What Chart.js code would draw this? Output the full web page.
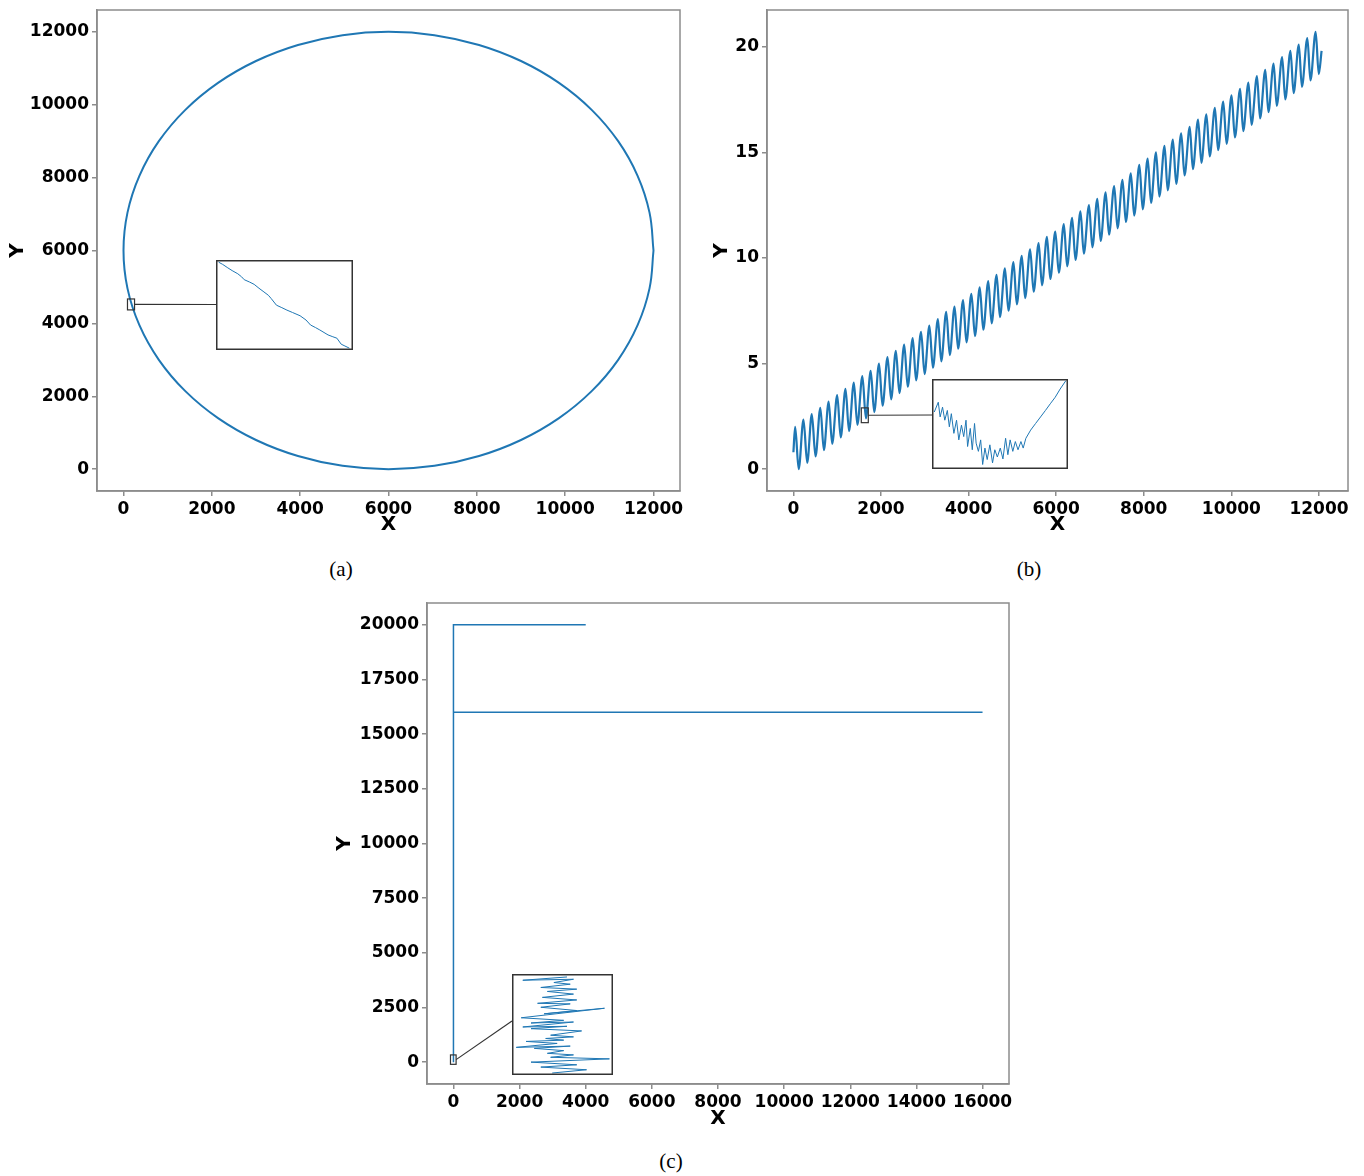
<!DOCTYPE html>
<html>
<head>
<meta charset="utf-8">
<title>Trajectories</title>
<script src="https://cdn.jsdelivr.net/npm/chart.js@4.4.1/dist/chart.umd.min.js"></script>
<style>
  body { margin: 0; background: #fff; }
  #page { position: relative; width: 1364px; height: 1176px; background: #fff; overflow: hidden; }
  canvas { position: absolute; }
  .inset { background: #fff; z-index: 2; }
  .cap { position: absolute; font-family: "Liberation Serif", serif; font-size: 21px; line-height: 26px; transform: translateX(-50%); }
</style>
</head>
<body>
<div id="page">
  <canvas id="chartA" width="690" height="540" style="left:0;top:0"></canvas>
  <canvas id="chartB" width="674" height="540" style="left:690px;top:0"></canvas>
  <canvas id="chartC" width="710" height="540" style="left:320px;top:593px"></canvas>
  <canvas id="insetA" class="inset" width="137" height="90" style="left:216px;top:260px"></canvas>
  <canvas id="insetB" class="inset" width="136" height="90" style="left:932px;top:379px"></canvas>
  <canvas id="insetC" class="inset" width="101" height="101" style="left:512px;top:974px"></canvas>
  <div class="cap" style="left:341px;top:556px">(a)</div>
  <div class="cap" style="left:1029px;top:556px">(b)</div>
  <div class="cap" style="left:671px;top:1148px">(c)</div>
</div>
<script>
// (a) closed orbit
const ringX = [12000, 11910, 11640, 11200, 10600, 9860, 9000, 8050, 7040, 6000, 4960, 3950, 3000, 2140, 1400, 800, 360, 90, 0, 90, 360, 800, 1400, 2140, 3000, 3950, 4960, 6000, 7040, 8050, 9000, 9860, 10600, 11200, 11640, 11910, 12000];
const ringY = [6000, 7040, 8050, 9000, 9860, 10600, 11200, 11640, 11910, 12000, 11910, 11640, 11200, 10600, 9860, 9000, 8050, 7040, 6000, 4960, 3950, 3000, 2140, 1400, 800, 360, 90, 0, 90, 360, 800, 1400, 2140, 3000, 3950, 4960, 6000];
const ticksA = [0, 2000, 4000, 6000, 8000, 10000, 12000];

// (b) drifting oscillation: start, then alternating peaks / troughs, then end
const waveStart = {x: 0, y: 0.8};
const waveEnd = {x: 12060, y: 19.8};
const peakX = [40, 230, 420, 615, 805, 1000, 1190, 1380, 1575, 1765, 1955, 2150, 2340, 2530, 2725, 2915, 3105, 3300, 3490, 3680, 3875, 4065, 4255, 4450, 4640, 4830, 5025, 5215, 5405, 5600, 5790, 5980, 6175, 6365, 6555, 6750, 6940, 7130, 7325, 7515, 7705, 7900, 8090, 8280, 8475, 8665, 8855, 9050, 9240, 9430, 9625, 9815, 10005, 10200, 10390, 10585, 10775, 10965, 11160, 11350, 11540, 11735, 11925];
const peakY = [2.0, 2.35, 2.6, 2.9, 3.2, 3.5, 3.8, 4.1, 4.4, 4.65, 5.0, 5.3, 5.6, 5.9, 6.2, 6.5, 6.8, 7.1, 7.45, 7.7, 8.0, 8.3, 8.6, 8.9, 9.2, 9.5, 9.8, 10.1, 10.4, 10.7, 11.0, 11.25, 11.6, 11.9, 12.2, 12.5, 12.8, 13.1, 13.4, 13.7, 14.0, 14.4, 14.7, 15.0, 15.3, 15.6, 15.9, 16.2, 16.55, 16.8, 17.1, 17.4, 17.7, 18.0, 18.3, 18.6, 18.9, 19.2, 19.5, 19.8, 20.1, 20.4, 20.7];
const troughX = [120, 315, 505, 695, 885, 1080, 1270, 1460, 1655, 1845, 2035, 2230, 2420, 2610, 2800, 2995, 3185, 3375, 3570, 3760, 3950, 4145, 4335, 4525, 4715, 4910, 5100, 5290, 5485, 5675, 5865, 6060, 6250, 6440, 6630, 6825, 7015, 7205, 7400, 7590, 7780, 7975, 8165, 8355, 8545, 8740, 8930, 9120, 9315, 9505, 9695, 9890, 10080, 10270, 10460, 10655, 10845, 11035, 11230, 11420, 11610, 11805, 11995];
const troughY = [0.0, 0.3, 0.6, 0.9, 1.2, 1.5, 1.8, 2.1, 2.4, 2.7, 3.0, 3.3, 3.6, 3.9, 4.2, 4.5, 4.8, 5.1, 5.4, 5.7, 6.0, 6.3, 6.6, 6.9, 7.2, 7.5, 7.8, 8.1, 8.4, 8.7, 9.0, 9.3, 9.6, 9.9, 10.2, 10.5, 10.8, 11.1, 11.4, 11.7, 12.0, 12.3, 12.6, 12.9, 13.2, 13.5, 13.9, 14.2, 14.5, 14.8, 15.1, 15.4, 15.7, 16.0, 16.3, 16.6, 16.9, 17.2, 17.5, 17.8, 18.1, 18.4, 18.7];
const ticksBX = [0, 2000, 4000, 6000, 8000, 10000, 12000];
const ticksBY = [0, 5, 10, 15, 20];

// (c) axis-aligned path
const pathX = [0, 0, 16000, 0, 0, 4000];
const pathY = [0, 16000, 16000, 16000, 20000, 20000];
const ticksCX = [0, 2000, 4000, 6000, 8000, 10000, 12000, 14000, 16000];
const ticksCY = [0, 2500, 5000, 7500, 10000, 12500, 15000, 17500, 20000];

// zoomed-in views (each in percent of its zoom window)
const insetAX = [1, 4, 7.8, 11, 15.2, 18, 20, 24, 27.4, 31, 34.7, 38, 40.1, 44, 48, 51.8, 56, 61.6, 66, 69.4, 73, 76.3, 82.4, 86, 89, 92.2, 95, 98.3];
const insetAY = [98.5, 96, 92.1, 89, 85.4, 82, 78.7, 76, 73.4, 69, 64.8, 61, 57.3, 49.8, 47, 44.2, 41.5, 37.8, 33, 27.3, 24.5, 21.7, 16.1, 14, 12.4, 5.6, 3.5, 1.1];
const insetBX = [0.7, 3.7, 5.1, 6.9, 8.6, 10.5, 12.0, 13.5, 15.4, 17.4, 19.1, 21.1, 22.8, 24.5, 25.7, 27.7, 29.2, 30.9, 32.1, 33.8, 35.5, 37.0, 38.7, 40.4, 42.4, 44.4, 46.1, 48.0, 50.2, 52.2, 54.2, 55.9, 57.6, 59.6, 61.5, 63.5, 65.7, 67.4, 69.4, 73.0, 76.7, 80.4, 84.1, 87.7, 91.4, 95.1, 99.3];
const insetBY = [63.6, 74.7, 58.0, 69.1, 54.3, 65.4, 46.8, 61.7, 39.4, 54.3, 32.0, 48.7, 35.7, 54.3, 24.5, 45.0, 20.8, 50.6, 28.3, 19.0, 32.0, 4.1, 22.7, 9.7, 26.4, 5.9, 20.8, 12.6, 22.7, 10.4, 33.8, 15.2, 32.0, 19.0, 30.1, 20.8, 30.1, 22.7, 33.8, 43.1, 50.6, 58.0, 65.4, 72.9, 80.3, 89.6, 98.9];
const insetCX = [39.6, 74.3, 28.1, 64.4, 18.2, 97.4, 38.0, 61.1, 34.7, 51.2, 21.5, 57.8, 3.3, 44.6, 13.2, 51.2, 33.0, 61.1, 38.0, 69.3, 18.2, 54.5, 9.9, 61.1, 18.2, 51.2, 8.3, 92.4, 31.4, 64.4, 28.1, 57.8, 24.8, 64.4, 29.7, 61.1, 34.7, 64.4, 28.1, 57.8, 41.3, 61.1, 9.9, 54.5];
const insetCY = [1.0, 4.3, 7.0, 9.3, 12.0, 15.3, 16.9, 19.3, 20.9, 23.6, 25.9, 28.2, 26.9, 30.9, 32.9, 34.2, 35.9, 37.5, 39.2, 43.5, 45.8, 48.2, 47.5, 52.5, 51.5, 54.2, 56.8, 66.4, 60.8, 64.1, 67.4, 70.8, 71.4, 74.8, 77.4, 80.7, 83.4, 85.7, 87.4, 90.7, 92.4, 95.7, 94.7, 98.0];

// zoom windows in data units
const zoomA = {x0: 90, x1: 250, y0: 4370, y1: 4670};
const zoomB = {x0: 1550, x1: 1710, y0: 2.2, y1: 2.9};
const zoomC = {x0: -90, x1: 80, y0: -100, y1: 330};

const BLUE = '#1f77b4';
const FRAME = '#8c8c8c';

Chart.defaults.font.family = '"DejaVu Sans", sans-serif';
Chart.defaults.color = '#000';

const zip = (xs, ys) => xs.map((x, i) => ({x: x, y: ys[i]}));

function wavePoints() {
    const pts = [waveStart];
    peakX.forEach((x, i) => {
        pts.push({x: x, y: peakY[i]});
        pts.push({x: troughX[i], y: troughY[i]});
    });
    pts.push(waveEnd);
    return pts;
}

// frame around the plot area, plus the zoom window and its link to the inset
const framePlugin = {
    id: 'frame',
    afterDatasetsDraw(chart, args, opts) {
        const {ctx, chartArea: a} = chart;
        ctx.save();
        ctx.strokeStyle = FRAME;
        ctx.lineWidth = 1.5;
        ctx.strokeRect(a.left, a.top, a.right - a.left, a.bottom - a.top);
        if (opts.zoom) {
            const xs = chart.scales.x, ys = chart.scales.y, z = opts.zoom;
            const l = xs.getPixelForValue(z.x0), r = xs.getPixelForValue(z.x1);
            const t = ys.getPixelForValue(z.y1), b = ys.getPixelForValue(z.y0);
            ctx.strokeStyle = '#333';
            ctx.lineWidth = 1.2;
            ctx.strokeRect(l, t, r - l, b - t);
            ctx.beginPath();
            ctx.moveTo(r, (t + b) / 2);
            ctx.lineTo(opts.link[0], opts.link[1]);
            ctx.stroke();
        }
        ctx.restore();
    }
};

const borderPlugin = {
    id: 'border',
    afterDraw(chart) {
        const ctx = chart.ctx;
        ctx.save();
        ctx.strokeStyle = '#333';
        ctx.lineWidth = 1.5;
        ctx.strokeRect(0.75, 0.75, chart.width - 1.5, chart.height - 1.5);
        ctx.restore();
    }
};

function axis(min, max, ticks, title, fit, pad, horizontal) {
    return {
        type: 'linear',
        min: min,
        max: max,
        afterBuildTicks: s => { s.ticks = ticks.map(v => ({value: v})); },
        afterFit: s => {
            // fixed axis band; the plot edges are set by layout padding alone
            if (horizontal) {
                s.height = fit;
                s.paddingLeft = 0;
                s.paddingRight = 0;
            } else {
                s.width = fit;
                s.paddingTop = 0;
                s.paddingBottom = 0;
            }
        },
        ticks: {
            color: '#000',
            font: {size: 17, weight: 'bold'},
            padding: 3,
            autoSkip: false,
            maxRotation: 0,
            callback: v => String(v)
        },
        grid: {drawOnChartArea: false, tickLength: 5, color: FRAME, lineWidth: 1.5},
        border: {color: FRAME, width: 1.5},
        title: {
            display: true,
            text: title,
            color: '#000',
            font: {size: 20, weight: 'bold'},
            padding: horizontal ? {top: 0, bottom: pad} : {top: pad, bottom: 0}
        }
    };
}

function mainChart(id, points, lineWidth, smooth, xAxis, yAxis, padding, zoom, link) {
    return new Chart(document.getElementById(id), {
        type: 'scatter',
        data: {
            datasets: [{
                data: points,
                showLine: true,
                borderColor: BLUE,
                borderWidth: lineWidth,
                pointRadius: 0,
                tension: smooth ? 0.4 : 0,
                cubicInterpolationMode: smooth === 'monotone' ? 'monotone' : 'default'
            }]
        },
        options: {
            responsive: false,
            animation: false,
            devicePixelRatio: 1,
            events: [],
            layout: {padding: padding},
            scales: {x: xAxis, y: yAxis},
            plugins: {
                legend: {display: false},
                tooltip: {enabled: false},
                frame: {zoom: zoom, link: link}
            }
        },
        plugins: [framePlugin]
    });
}

function insetChart(id, points) {
    return new Chart(document.getElementById(id), {
        type: 'scatter',
        data: {
            datasets: [{
                data: points,
                showLine: true,
                borderColor: BLUE,
                borderWidth: 1,
                pointRadius: 0,
                tension: 0
            }]
        },
        options: {
            responsive: false,
            animation: false,
            devicePixelRatio: 1,
            events: [],
            layout: {padding: 0},
            scales: {
                x: {type: 'linear', min: -1, max: 101, display: false},
                y: {type: 'linear', min: -1, max: 101, display: false}
            },
            plugins: {legend: {display: false}, tooltip: {enabled: false}}
        },
        plugins: [borderPlugin]
    });
}

mainChart('chartA', zip(ringX, ringY), 2, true,
    axis(-600, 12600, ticksA, 'X', 49, 3, true),
    axis(-600, 12600, ticksA, 'Y', 97, 6, false),
    {top: 10, right: 10, left: 0, bottom: 0}, zoomA, [216, 304.5]);

mainChart('chartB', wavePoints(), 2.2, 'monotone',
    axis(-603, 12663, ticksBX, 'X', 49, 3, true),
    axis(-1.035, 21.735, ticksBY, 'Y', 77, 20, false),
    {top: 10, right: 16, left: 0, bottom: 0}, zoomB, [242, 415]);

mainChart('chartC', zip(pathX, pathY), 1.5, false,
    axis(-800, 16800, ticksCX, 'X', 49, 2, true),
    axis(-1000, 21000, ticksCY, 'Y', 107, 13, false),
    {top: 10, right: 21, left: 0, bottom: 0}, zoomC, [192, 428]);

insetChart('insetA', zip(insetAX, insetAY));
insetChart('insetB', zip(insetBX, insetBY));
insetChart('insetC', zip(insetCX, insetCY));
</script>
</body>
</html>
